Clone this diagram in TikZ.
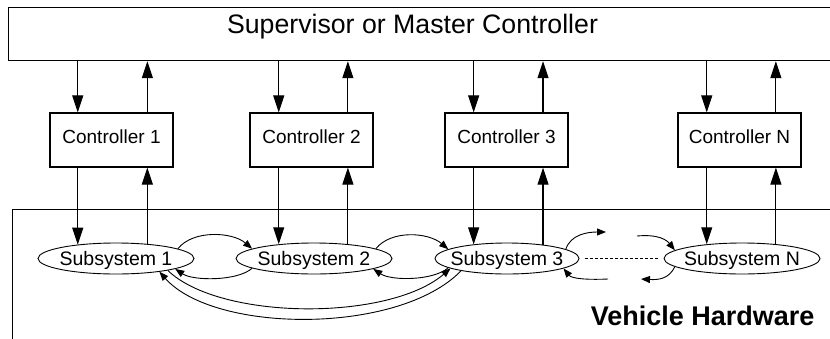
\documentclass[tikz,border=0pt]{standalone}
\usepackage{fontspec}
\setmainfont{Liberation Sans}
\usetikzlibrary{arrows.meta,shapes.geometric}
\begin{document}
\begin{tikzpicture}[x=1pt,y=-1pt,
  box/.style={draw, line width=1.2pt, inner sep=0pt},
  ctrl/.style={box, minimum width=123pt, minimum height=54pt, font=\fontsize{19}{22}\selectfont, text height=13.6pt, text depth=7pt},
  subsys/.style={ellipse, draw, line width=0.9pt, inner xsep=-20pt, inner ysep=0pt, minimum width=156pt, minimum height=31pt, font=\fontsize{19.5}{22}\selectfont, text depth=0pt},
  big/.style={line width=1.1pt, -{Triangle[length=17pt,width=11pt]}},
  small/.style={line width=0.9pt, -{Triangle[length=9pt,width=7pt]}},
]
\useasboundingbox (0,0) rectangle (830,338);

\node[box, anchor=north west, minimum width=840pt, minimum height=53pt] (sup) at (8,7) {};
\node[font=\fontsize{26.7}{30}\selectfont, anchor=base] (suptxt) at (412.5,33) {Supervisor or Master Controller};

\node[box, anchor=north west, minimum width=840pt, minimum height=150pt] (veh) at (12,209) {};
\node[font=\bfseries\fontsize{27}{30}\selectfont, anchor=base east] (vehtxt) at (818,325) {Vehicle Hardware};

\node[ctrl] (c1) at (111.5,140) {Controller 1};
\node[ctrl] (c2) at (311.5,140) {Controller 2};
\node[ctrl] (c3) at (506.5,140) {Controller 3};
\node[ctrl] (cN) at (739.5,140) {Controller N};

\node[subsys] (s1) at (116,258.5) {Subsystem 1};
\node[subsys] (s2) at (314,258.5) {Subsystem 2};
\node[subsys, minimum width=144pt] (s3) at (507,258.5) {Subsystem 3};
\node[subsys] (sN) at (742,258.5) {Subsystem N};

\foreach \c/\s/\a/\b in {c1/s1/160/25.5, c2/s2/158.4/23.1, c3/s3/157.3/21.9, cN/sN/158.4/23.1}{
  \draw[big] (sup.south -| \s.\a) -- (\c.north -| \s.\a);
  \draw[big] (\c.north -| \s.\b) -- (sup.south -| \s.\b);
  \draw[big] (\c.south -| \s.\a) -- (\s.\a);
  \draw[big] (\s.\b) -- (\c.south -| \s.\b);
}

\draw[small] (s1.9) .. controls +(15,-19) and +(-20,-17) .. (s2.171);
\draw[small] (s2.189) .. controls +(-15,13) and +(18,12) .. (s1.-10);
\draw[small] (s2.9) .. controls +(15,-19) and +(-20,-17) .. (s3.171);
\draw[small] (s3.189) .. controls +(-15,13) and +(18,12) .. (s2.-10);

\draw[small] (s1.-13) .. controls +(52,50) and +(-62,53) .. (s3.190);
\draw[small] (s3.195) .. controls +(-62,64) and +(55,62) .. (s1.-17);

\coordinate (o3a) at (606,232);
\coordinate (o3b) at (608,279);
\coordinate (nia) at (637,236);
\coordinate (nob) at (641,279);
\draw[small] (s3.9) .. controls +(5,-15) and +(-18,0) .. (o3a);
\draw[small] (o3b) .. controls +(-22,1) and +(8,10) .. (s3.-10);
\draw[small] (nia) .. controls +(22,-2) and +(-8,-10) .. (sN.173);
\draw[small] (sN.187) .. controls +(-6,12) and +(18,1) .. (nob);

\draw[line width=0.9pt, dash pattern=on 3pt off 2pt, shorten <=6pt, shorten >=6pt] (s3.east) -- (sN.west);
\end{tikzpicture}
\end{document}
